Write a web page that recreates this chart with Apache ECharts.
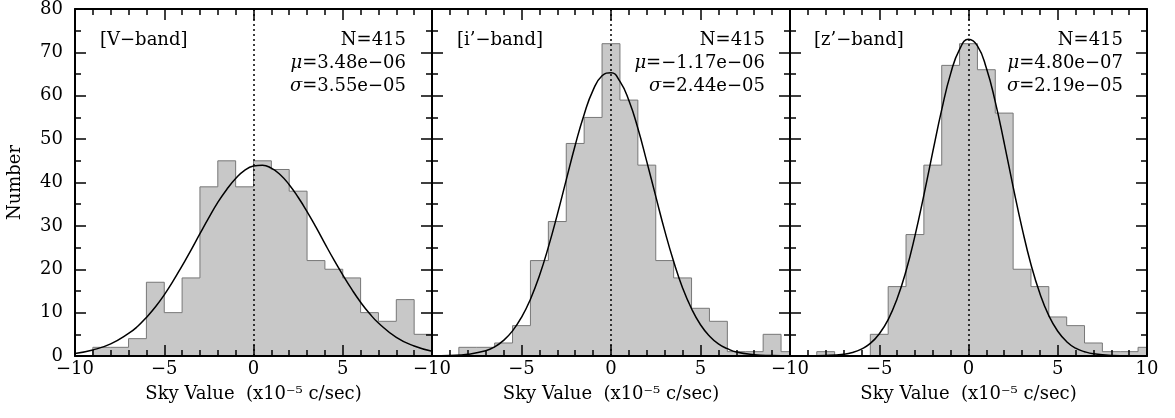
<!DOCTYPE html>
<html>
<head>
<meta charset="utf-8">
<script src="https://cdn.jsdelivr.net/npm/echarts@6/dist/echarts.min.js"></script>
<style>html,body{margin:0;padding:0;background:#fff}#c{width:1175px;height:418px}</style>
</head>
<body>
<div id="c"></div>
<script>
// ---- data (bin width = 1, in units of 1e-5 c/sec) ----
const vBinStart = -10;
const vCounts = [0,2,2,4,17,10,18,39,45,39,45,43,38,22,20,18,10,8,13,5];
const iBinStart = -8.5;
const iCounts = [2,2,3,7,22,31,49,55,72,59,44,22,18,11,8,1,1,5,1];
const zBinStart = -8.5;
const zCounts = [1,0,0,5,16,28,44,67,72,66,56,20,16,9,7,3,1,1,2];

const curveX = [-10,-9,-8,-7,-6.5,-6,-5.5,-5,-4.5,-4,-3.5,-3,-2.5,-2,-1.5,-1,-0.5,0,0.5,1,1.5,2,2.5,3,3.5,4,4.5,5,5.5,6,6.5,7,8,9,10];
const vCurve = [0.6,1.4,2.8,5.2,6.8,8.9,11.3,14.1,17.3,20.8,24.4,28.2,31.9,35.4,38.4,40.9,42.8,43.8,44.0,43.3,41.8,39.5,36.6,33.3,29.7,25.9,22.2,18.7,15.4,12.4,9.8,7.6,4.3,2.3,1.1];
const iCurve = [0.0,0.1,0.4,1.2,2.1,3.6,5.8,8.9,13.1,18.5,25.1,32.6,40.6,48.6,55.7,61.3,64.6,65.3,63.3,58.9,52.5,44.8,36.8,28.9,21.8,15.7,10.9,7.2,4.6,2.8,1.7,0.9,0.3,0.1,0.0];
const zCurve = [0.0,0.0,0.1,0.4,0.8,1.6,2.9,5.1,8.4,13.2,19.6,27.7,37.1,47.1,56.8,65.1,70.7,73.0,71.5,66.4,58.6,49.1,39.0,29.5,21.1,14.4,9.3,5.7,3.3,1.8,1.0,0.5,0.1,0.0,0.0];

const bandLabels = ['[V\u2212band]', '[i\u2019\u2212band]', '[z\u2019\u2212band]'];
const nLabels = ['N=415', 'N=415', 'N=415'];
const muLabels = ['3.48e\u221206', '\u22121.17e\u221206', '4.80e\u221207'];
const sigmaLabels = ['3.55e\u221205', '2.44e\u221205', '2.19e\u221205'];
const xTicks = { min: -10, max: 10, interval: 5 };
const yTicks = { min: 0, max: 80, interval: 10 };
const xName = 'Sky Value  (x10\u207B\u2075 c/sec)';
const yName = 'Number';

// ---- layout ----
const FONT = 'DejaVu Serif';
const FS = 18;
const gridsPx = [{left:75,width:357},{left:432,width:358},{left:790,width:357}];
const TOP = 9, HEIGHT = 347;
const bandX = [100, 457, 814];
const statX = [406, 765, 1123];

const panels = [
  {start: vBinStart, counts: vCounts, curve: vCurve},
  {start: iBinStart, counts: iCounts, curve: iCurve},
  {start: zBinStart, counts: zCounts, curve: zCurve}
];

function histPoints(start, counts, xmax) {
  const pts = [[start, 0]];
  counts.forEach((c, k) => pts.push([start + k, c]));
  const last = counts.length - 1;
  const rightEdge = Math.min(start + last + 1, xmax);
  pts.push([rightEdge, counts[last]]);
  pts.push([rightEdge, 0]);
  return pts;
}
const fmtNum = v => String(v).replace('-', '\u2212');

const tickStyle = {color:'#000', width:1.5};
const grid = [], xAxis = [], yAxis = [], series = [], graphic = [];

panels.forEach((p, i) => {
  grid.push({left: gridsPx[i].left, width: gridsPx[i].width, top: TOP, height: HEIGHT});
  const baseX = {
    gridIndex: i, type: 'value', min: xTicks.min, max: xTicks.max, interval: xTicks.interval,
    axisLine: {show: true, onZero: false, lineStyle: {color:'#000', width:2}},
    axisTick: {show: true, inside: true, length: 11, lineStyle: tickStyle},
    minorTick: {show: true, splitNumber: 5, length: 6, lineStyle: tickStyle},
    splitLine: {show: false}, minorSplitLine: {show: false}, z: 5
  };
  xAxis.push(Object.assign({}, baseX, {
    position: 'bottom',
    axisLabel: {show: true, margin: 4, color: '#000', fontFamily: FONT, fontSize: FS,
      formatter: v => (i < 2 && v === xTicks.max) ? '' : fmtNum(v)},
    name: xName, nameLocation: 'middle', nameGap: 29,
    nameTextStyle: {color:'#000', fontFamily: FONT, fontSize: FS}
  }));
  xAxis.push(Object.assign({}, baseX, {position: 'top', axisLabel: {show: false}}));
  const baseY = {
    gridIndex: i, type: 'value', min: yTicks.min, max: yTicks.max, interval: yTicks.interval,
    axisLine: {show: true, onZero: false, lineStyle: {color:'#000', width:2}},
    axisTick: {show: true, inside: true, length: 11, lineStyle: tickStyle},
    minorTick: {show: true, splitNumber: 2, length: 6, lineStyle: tickStyle},
    splitLine: {show: false}, minorSplitLine: {show: false}, z: 5
  };
  const leftY = Object.assign({}, baseY, {
    position: 'left',
    axisLabel: {show: i === 0, margin: 12, color:'#000', fontFamily: FONT, fontSize: FS}
  });
  if (i === 0) {
    Object.assign(leftY, {name: yName, nameLocation: 'middle', nameGap: 51, nameRotate: 90,
      nameTextStyle: {color:'#000', fontFamily: FONT, fontSize: FS}});
  }
  yAxis.push(leftY);
  yAxis.push(Object.assign({}, baseY, {position: 'right', axisLabel: {show: false}}));

  series.push({
    type: 'line', xAxisIndex: 2*i, yAxisIndex: 2*i, step: 'end', symbol: 'none',
    data: histPoints(p.start, p.counts, xTicks.max),
    lineStyle: {color: '#777777', width: 1},
    areaStyle: {color: '#c8c8c8', opacity: 1},
    silent: true, z: 1, animation: false
  });
  series.push({
    type: 'line', xAxisIndex: 2*i, yAxisIndex: 2*i, smooth: 0.5, symbol: 'none',
    data: curveX.map((x, k) => [x, p.curve[k]]),
    lineStyle: {color: '#000', width: 1.5},
    silent: true, z: 3, animation: false,
    markLine: {symbol: 'none', silent: true, animation: false, label: {show: false},
      lineStyle: {color: '#000', type: [2, 3], width: 1.5},
      data: [{xAxis: 0}]}
  });

  const rich = {it: {fontStyle: 'italic', fontFamily: FONT, fontSize: FS, fill: '#000'}};
  graphic.push({type: 'text', x: bandX[i], y: 40, z: 10, silent: true,
    style: {text: bandLabels[i], fontFamily: FONT, fontSize: FS, fill: '#000', textAlign: 'left', textVerticalAlign: 'middle'}});
  graphic.push({type: 'text', x: statX[i], y: 40, z: 10, silent: true,
    style: {text: nLabels[i], fontFamily: FONT, fontSize: FS, fill: '#000', textAlign: 'right', textVerticalAlign: 'middle'}});
  graphic.push({type: 'text', x: statX[i], y: 63, z: 10, silent: true,
    style: {text: '{it|\u03BC}=' + muLabels[i], rich: rich, fontFamily: FONT, fontSize: FS, fill: '#000', textAlign: 'right', textVerticalAlign: 'middle'}});
  graphic.push({type: 'text', x: statX[i], y: 86, z: 10, silent: true,
    style: {text: '{it|\u03C3}=' + sigmaLabels[i], rich: rich, fontFamily: FONT, fontSize: FS, fill: '#000', textAlign: 'right', textVerticalAlign: 'middle'}});
});

const chart = echarts.init(document.getElementById('c'), null, {renderer: 'canvas'});
chart.setOption({animation: false, backgroundColor: '#fff', grid, xAxis, yAxis, series, graphic});
</script>
</body>
</html>
